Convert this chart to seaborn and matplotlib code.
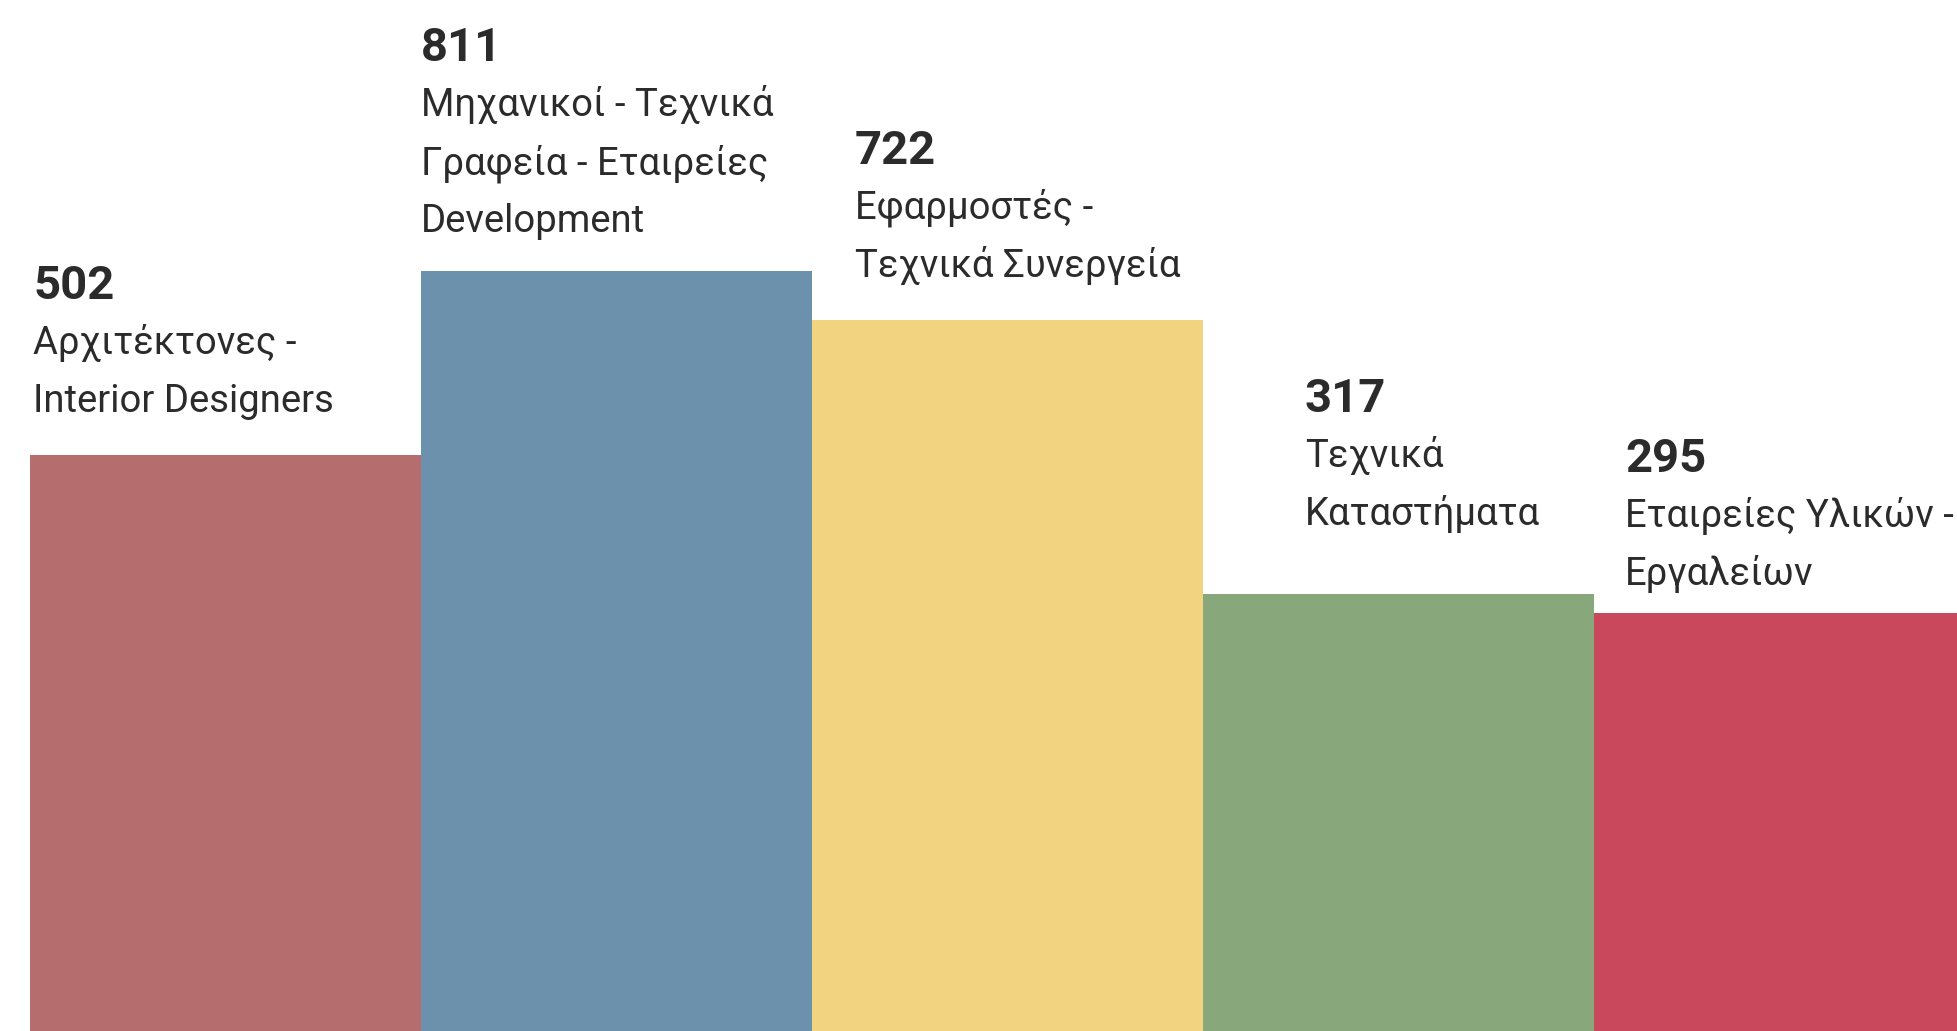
import numpy as np
import matplotlib
matplotlib.use("Agg")
import matplotlib.pyplot as plt
import seaborn as sns

# ---- data ----
categories = [
    "Αρχιτέκτονες - Interior Designers",
    "Μηχανικοί - Τεχνικά Γραφεία - Εταιρείες Development",
    "Εφαρμοστές - Τεχνικά Συνεργεία",
    "Τεχνικά Καταστήματα",
    "Εταιρείες Υλικών - Εργαλείων",
]
values = [502, 811, 722, 317, 295]
label_lines = [
    ["Αρχιτέκτονες -", "Interior Designers"],
    ["Μηχανικοί - Τεχνικά", "Γραφεία - Εταιρείες", "Development"],
    ["Εφαρμοστές -", "Τεχνικά Συνεργεία"],
    ["Τεχνικά", "Καταστήματα"],
    ["Εταιρείες Υλικών -", "Εργαλείων"],
]
colors = ["#B56E6D", "#6C91AD", "#F2D480", "#88A77A", "#CA485C"]

# ---- layout (pixel offsets of label blocks relative to bar top-left) ----
text_dx = [3, 0, 43, 102, 31]
text_gap = [43, 39, 43, 69, 28]
line_step = 58
num_step = 55

sns.set_theme(style="white")
plt.rcParams["font.family"] = ["Roboto", "DejaVu Sans"]

W, H = 1957, 1031
fig = plt.figure(figsize=(W / 100, H / 100), dpi=100)
fig.patch.set_facecolor("white")
ax = fig.add_axes([0, 0, 1, 1])

sns.barplot(x=categories, y=values, hue=categories, palette=colors,
            width=1.0, saturation=1, legend=False, ax=ax,
            edgecolor="none", linewidth=0)

ax.set_yscale("function", functions=(lambda v: np.sqrt(np.maximum(v, 0)),
                                     lambda s: np.square(s)))
ax.set_ylim(11.2, 1402.6)
unit = 391.0
left = -0.5 - 30 / unit
ax.set_xlim(left, left + W / unit)
ax.set_axis_off()

txt_color = "#2b2b2b"
for i, (v, lines) in enumerate(zip(values, label_lines)):
    x0 = i - 0.5
    n = len(lines)
    for k, line in enumerate(lines):
        dy = text_gap[i] + (n - 1 - k) * line_step
        ax.annotate(line, xy=(x0, v), xycoords="data",
                    xytext=(text_dx[i], dy), textcoords="offset pixels",
                    ha="left", va="baseline", fontsize=27.5,
                    color=txt_color, annotation_clip=False)
    dy_num = text_gap[i] + (n - 1) * line_step + num_step
    ax.annotate(str(v), xy=(x0, v), xycoords="data",
                xytext=(text_dx[i], dy_num), textcoords="offset pixels",
                ha="left", va="baseline", fontsize=34, fontweight="bold",
                color=txt_color, annotation_clip=False)

fig.savefig("out.png", dpi=100, facecolor="white")
